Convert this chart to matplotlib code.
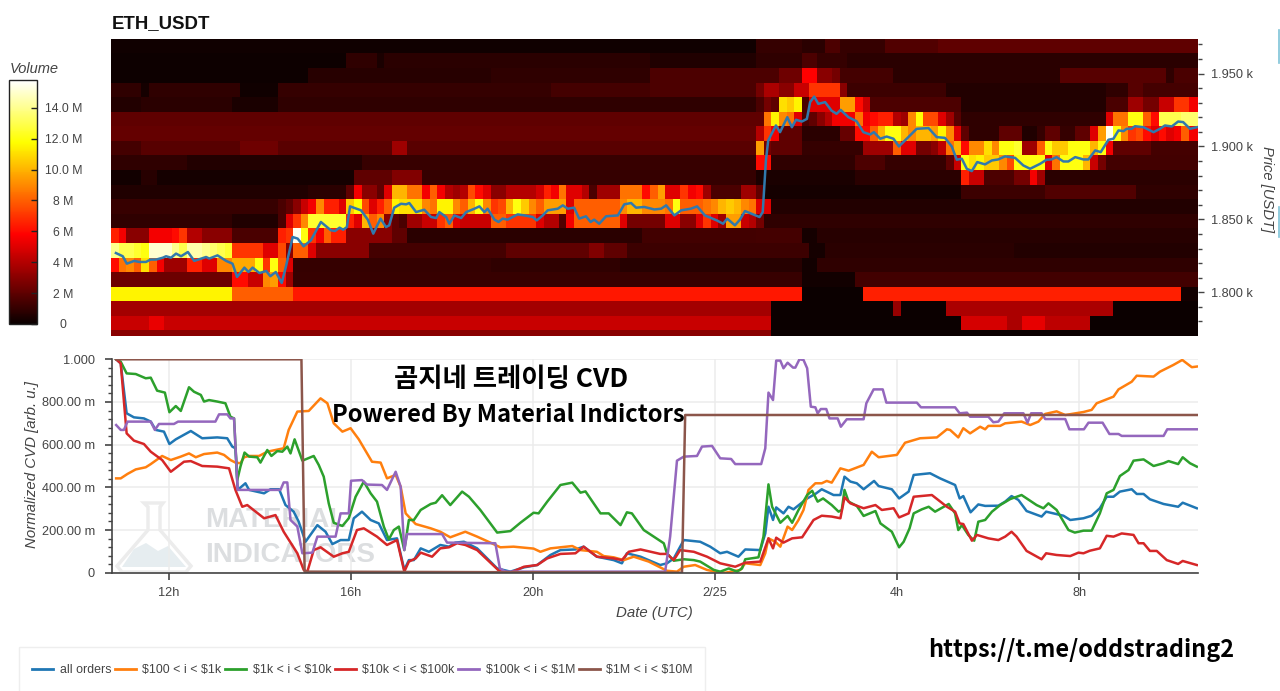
import numpy as np
import matplotlib
matplotlib.use("Agg")
import matplotlib.pyplot as plt
from matplotlib.patches import Rectangle, Polygon
from matplotlib.lines import Line2D
from matplotlib.ticker import FixedLocator

plt.rcParams['font.family'] = ['Liberation Sans', 'DejaVu Sans']

# ---------- heat map volume (millions), run-length (bins, value) per price row, top row first
R0 = [(85,.15),(6,1.0),(3,.8),(2,1.6),(6,1.0),(7,1.7),(35,2.0)]
R1 = [(31,.1),(4,.9),(1,.4),(35,.8),(14,.5),(6,.9),(2,1.6),(4,1.0),(47,.8)]
R2 = [(26,.1),(24,.7),(21,.9),(17,1.6),(3,2.4),(2,5.8),(2,3.0),(1,2.5),(7,1.4),(22,.8),(14,1.8),(1,.9),(4,1.5)]
R3 = [(4,.9),(1,.3),(12,.9),(5,.15),(36,1.0),(13,1.4),(14,1.6),(1,2.5),(2,3.8),(2,3.0),(2,4.5),(4,7.0),(1,3.0),(13,1.2),(21,.6),(3,.9),(2,1.8),(9,1.4)]
R4 = [(4,.6),(12,.8),(6,.4),(63,.9),(1,1.5),(1,2.5),(1,2.0),(1,11),(1,10.5),(1,11.5),(1,1.5),(4,5.0),(2,9.5),(1,6.0),(1,4.5),(12,1.6),(19,.6),(3,1.5),(2,3.5),(2,2.5),(2,4.5),(2,7.0),(2,5.5)]
R5 = [(86,2.0),(1,8.5),(1,11.5),(1,9.0),(1,8.5),(1,5.0),(1,1.5),(1,2.0),(1,3.0),(1,4.0),(3,5.5),(1,8.5),(1,5.5),(1,6.0),(2,6.5),(1,4.0),(1,3.5),(1,9.0),(1,11.8),(2,7.5),(1,5.0),(1,3.5),(1,1.8),(19,.9),(1,5.0),(2,8.5),(2,12),(1,8.0),(1,6.0),(3,13),(3,13.5)]
R6 = [(85,2.1),(1,4),(1,7),(1,5.5),(3,2),(5,.8),(2,2.2),(2,6),(1,8),(1,10),(2,12),(1,10),(1,9),(2,10),(1,9.5),(1,11.5),(1,9),(1,5),(1,2),(4,.9),(3,2),(2,.5),(1,1),(2,2),(2,1),(2,2),(1,5),(1,9.5),(1,15.5),(1,12),(1,9),(1,7),(1,7.5),(1,6),(1,5),(1,6),(1,5),(1,5.5),(1,8),(2,5.5)]
R7 = [(4,1.4),(13,1.8),(5,2.4),(15,1.9),(2,3.5),(46,1.9),(1,9.5),(1,2.5),(4,2),(8,1),(4,3.5),(1,8),(2,5),(2,2.5),(1,3),(1,4.2),(1,8.5),(1,10),(1,6),(2,9),(1,11),(1,9),(2,12),(1,12.5),(2,3.5),(1,8),(1,12),(2,10.5),(3,12),(1,10),(1,12),(1,5.5),(5,2),(8,1.4)]
R8 = [(10,.9),(23,.6),(52,1.1),(2,6),(11,.9),(4,1.6),(8,1),(1,2),(1,4.5),(1,12),(1,11),(1,11.5),(2,10.5),(1,9),(1,7.5),(4,12),(1,5),(1,8.5),(3,12),(1,10),(1,4.5),(1,2.5),(13,1.3)]
R9 = [(4,.2),(2,.7),(26,.3),(5,2),(4,2.8),(44,1),(13,.4),(14,.8),(1,6.5),(2,4.5),(4,1.6),(2,2.5),(1,5.5),(1,3.5),(21,.8)]
R10 = [(26,.5),(5,.8),(1,2),(1,5.5),(2,3),(1,2),(1,5),(2,10),(2,8.5),(1,5.5),(1,8),(1,5.5),(1,4),(1,3.5),(1,4),(1,7.5),(1,6),(1,5),(2,3),(4,4),(1,4.7),(1,6.5),(1,5.5),(1,8.5),(2,5),(1,4),(1,1.5),(3,3.5),(3,8.5),(1,6),(1,8),(1,9.5),(2,5),(1,7),(1,5.5),(1,6),(1,3.5),(4,1.5),(2,3.5),(1,2),(26,.3),(11,1.2),(12,1.7),(9,.9)]
R11 = [(22,1.1),(1,1.5),(1,2),(1,3),(1,4.5),(1,5.5),(1,9),(2,6.5),(1,5),(1,10.5),(1,11.8),(1,7.5),(1,5),(1,6.5),(1,8),(1,11.5),(3,11),(1,9),(1,8.5),(2,11.5),(1,9),(1,8),(1,10),(1,12),(1,9),(1,7),(1,7.5),(1,10),(1,12),(1,10.5),(1,9),(1,8),(3,9.5),(1,5),(6,8),(1,9),(2,10),(3,9),(1,8.5),(1,12),(3,8),(1,8.5),(1,9),(1,10),(1,10.5),(1,10),(1,9),(1,8.5),(2,5),(57,.6)]
R12 = [(16,.9),(6,.5),(1,1.5),(1,5),(1,7),(1,9),(5,12.5),(1,6.5),(1,5),(1,10),(1,8),(1,9),(1,3),(1,2),(1,1.5),(2,3.5),(2,4.5),(1,7),(1,8),(1,5),(4,4.5),(2,8),(4,7),(1,5),(2,4),(1,1.7),(1,5.5),(6,8),(1,5),(5,2.5),(2,5),(2,3),(1,5),(1,7),(1,5),(1,3.5),(2,9.5),(1,4.5),(1,4),(1,2.5),(58,.9)]
R13 = [(1,6.5),(1,5.5),(3,3),(3,5.5),(1,6),(1,7),(2,4),(4,3),(6,1.5),(1,6.5),(1,7),(1,15.5),(1,12),(1,7),(1,5.5),(1,8),(2,6.5),(6,3),(2,2),(31,.8),(15,1.3),(6,1.4),(2,.3),(51,.7)]
R14 = [(1,14),(2,13),(1,12.5),(1,12),(3,15),(1,14),(1,13),(2,14.5),(1,14),(1,13.5),(1,13),(1,12.5),(4,7),(2,5),(1,7.5),(1,3),(2,8),(1,5),(7,3),(18,1.4),(11,2),(2,2.8),(3,2),(24,1.2),(2,.3),(25,.8),(26,.6)]
R15 = [(1,6),(1,8.5),(1,9),(1,8),(1,11),(1,8),(1,5.5),(3,3.5),(2,6.5),(2,5),(2,9),(3,9.8),(1,12),(1,7),(1,12),(1,8),(1,5),(26,1),(17,.9),(24,.7),(2,.2),(51,.9)]
R16 = [(16,2.3),(2,6),(2,4.5),(1,9),(1,9.5),(1,6),(1,3.5),(67,1.1),(7,.2),(46,1.3)]
R17 = [(16,11.5),(8,8),(67,6.3),(8,.05),(42,6.5),(3,.2)]
R18 = [(87,3.6),(16,.05),(1,3.3),(6,.05),(22,3.8),(12,.05)]
R19 = [(5,4.5),(2,5.3),(80,4.5),(25,.05),(6,4.8),(2,3.8),(3,5.2),(6,4.2),(15,.05)]
R20 = [(87,3),(57,.05)]
heat_rows = [R0,R1,R2,R3,R4,R5,R6,R7,R8,R9,R10,R11,R12,R13,R14,R15,R16,R17,R18,R19,R20]

# ---------- price line (hours since 2/24 00:00, USDT)
price_t = [10.85,11.00,11.09,11.25,11.36,11.51,11.61,11.73,11.88,11.95,12.06,12.17,12.28,12.43,12.57,12.72,12.83,12.90,13.08,13.27,13.41,13.51,13.67,13.76,13.85,14.00,14.15,14.24,14.36,14.49,14.58,14.73,14.84,14.97,15.13,15.35,15.57,15.66,15.76,15.84,15.92,15.99,16.23,16.38,16.50,16.66,16.78,16.85,16.96,17.11,17.22,17.29,
 17.33,17.44,17.62,17.77,17.88,17.95,18.10,18.17,18.28,18.43,18.54,18.72,18.83,18.94,19.01,19.16,19.25,19.34,19.45,19.67,19.82,20.00,20.09,20.22,20.33,20.55,20.66,20.77,20.91,21.02,21.17,21.27,21.35,21.46,21.61,21.87,22.01,22.16,22.27,22.45,22.67,22.82,22.93,23.11,23.26,23.47,23.61,
 23.78,24.04,24.18,24.27,24.44,24.55,24.66,24.84,24.98,25.05,25.12,25.17,25.34,25.43,25.59,25.69,25.78,25.91,26.02,26.09,26.18,26.27,26.42,26.56,26.67,26.76,26.93,27.11,27.26,27.41,27.49,27.63,27.77,27.92,28.04,28.21,28.43,28.69,28.87,
 29.05,29.20,29.31,29.42,29.53,29.64,29.76,29.93,30.08,30.22,30.37,30.59,30.77,30.92,31.14,31.28,31.39,31.50,31.65,31.76,31.91,32.09,32.20,32.35,32.47,32.64,32.75,32.86,32.97,33.04,33.15,33.22,33.41,33.63,33.77,33.88,34.03,34.17,34.28,34.43,34.58]
price_v = [1826.9,1824.7,1819.6,1821.5,1820.8,1820.8,1822.4,1822.4,1823.7,1824.7,1823.7,1826.5,1824.7,1827.6,1821.5,1823.1,1824.2,1823.1,1825.3,1821.5,1819.6,1810.5,1816.9,1813.9,1816.9,1813.2,1814.6,1811.0,1813.9,1806.4,1817.3,1837.9,1836.8,1831.5,1835.6,1848.2,1842.5,1842.0,1844.3,1842.9,1844.7,1858.9,1856.2,1849.8,1840.2,1850.5,1844.7,1845.9,1858.0,1860.7,1860.3,1861.2,
 1859.6,1855.0,1856.6,1851.6,1850.9,1855.0,1851.6,1847.0,1852.7,1850.9,1855.0,1857.3,1858.9,1855.0,1857.3,1849.8,1848.2,1850.5,1849.8,1853.4,1852.7,1851.6,1849.3,1852.7,1856.2,1857.3,1859.6,1857.3,1858.0,1850.5,1852.1,1848.2,1849.8,1847.0,1852.1,1852.7,1860.3,1861.2,1858.0,1858.5,1856.8,1857.3,1859.6,1852.7,1856.2,1857.3,1858.9,
 1852.7,1849.3,1847.0,1850.5,1845.9,1849.8,1855.7,1853.4,1851.6,1855.0,1890.4,1904.1,1914.4,1909.8,1920.1,1913.2,1918.3,1917.1,1918.9,1930.4,1934.2,1929.2,1930.4,1924.6,1922.4,1925.1,1920.1,1917.3,1909.8,1908.2,1909.8,1905.3,1906.8,1905.3,1900.0,1905.3,1912.1,1912.6,1906.4,
 1905.9,1900.0,1890.9,1891.6,1884.7,1883.1,1889.3,1887.7,1890.4,1891.1,1893.2,1892.2,1887.0,1884.7,1888.1,1890.9,1891.1,1892.7,1889.7,1889.7,1892.7,1891.1,1891.1,1897.3,1896.1,1904.6,1905.3,1911.0,1910.5,1912.1,1912.1,1913.9,1913.2,1909.8,1912.1,1914.4,1913.7,1917.1,1916.7,1912.1,1913.2]

# ---------- normalized CVD series (hours, milli-units)
all_t = [10.84,10.94,11.07,11.23,11.45,11.60,11.71,11.89,12.01,12.15,12.48,12.73,13.06,13.28,13.39,13.46,13.51,13.68,13.76,14.09,14.23,14.42,14.56,14.74,14.85,15.00,15.26,15.44,15.59,15.77,15.95,16.06,16.24,16.43,16.61,16.79,17.01,
 17.17,17.27,17.38,17.53,17.71,17.96,18.15,18.29,18.48,18.77,19.21,19.50,19.80,20.09,20.38,20.60,20.93,21.11,21.40,21.77,21.95,22.06,22.36,22.79,22.94,23.09,23.31,23.67,
 23.89,24.11,24.26,24.51,24.66,24.99,25.10,25.17,25.27,25.34,25.50,25.61,25.72,26.02,26.20,26.34,26.60,26.75,26.84,26.97,27.11,27.26,27.49,27.59,27.88,28.04,28.25,28.36,28.72,28.94,
 29.27,29.37,29.45,29.61,29.78,29.93,30.22,30.37,30.51,30.66,30.84,31.17,31.27,31.65,31.80,32.09,32.27,32.45,32.60,32.75,32.89,33.15,33.26,33.41,33.55,33.85,34.17,34.27,34.58]
all_v = [1000,981,747,728,723,708,669,661,603,625,664,630,634,630,591,583,388,419,388,372,391,391,317,286,239,145,223,192,134,153,153,255,286,247,231,153,161,
 13,59,59,114,98,130,122,141,145,114,20,5,25,36,83,106,109,122,75,59,44,91,75,36,44,67,153,145,
 122,91,98,75,109,106,184,309,247,306,278,309,297,348,369,391,364,364,450,427,419,391,430,406,391,348,380,458,466,442,
 411,348,359,283,320,313,314,333,359,341,289,263,286,267,247,255,267,302,356,356,380,391,369,369,344,322,309,328,302]

o100_t = [10.84,10.94,11.09,11.27,11.49,11.60,11.85,12.04,12.26,12.44,12.59,12.77,13.06,13.21,13.35,13.46,13.57,13.65,13.76,13.98,14.16,14.52,14.63,14.82,15.07,15.33,15.48,15.62,15.81,15.99,16.17,16.46,16.65,16.79,16.98,
 17.09,17.20,17.42,17.75,17.96,18.18,18.51,18.77,19.06,19.28,19.57,20.01,20.16,20.38,20.86,21.04,21.40,21.55,21.77,21.99,22.21,22.54,22.94,23.16,23.31,23.56,
 23.82,24.00,24.22,24.55,24.66,24.99,25.10,25.17,25.32,25.43,25.59,25.69,25.83,25.94,26.05,26.20,26.34,26.45,26.56,26.75,26.93,27.26,27.44,27.59,27.99,28.17,28.50,28.87,29.09,
 29.16,29.34,29.45,29.60,29.82,29.93,30.00,30.26,30.37,30.73,30.92,31.10,31.25,31.50,31.69,32.09,32.27,32.38,32.75,32.86,33.15,33.26,33.63,33.77,34.06,34.26,34.47,34.58]
o100_v = [442,442,463,484,494,509,547,528,544,559,541,556,563,552,528,516,513,541,547,547,567,583,669,755,758,817,794,700,661,677,625,520,516,442,458,
 403,278,228,208,192,166,192,169,141,119,122,113,98,114,125,106,98,78,72,59,75,52,9,5,28,36,
 13,5,0,13,44,36,91,161,145,122,216,200,247,294,388,419,419,430,422,489,478,505,567,541,552,609,630,634,672,
 669,634,677,653,684,672,688,688,700,708,692,708,744,756,739,753,763,794,825,859,895,923,919,942,973,997,963,966]

o1k_t = [10.84,10.94,11.07,11.27,11.49,11.60,11.74,11.91,12.01,12.15,12.26,12.44,12.55,12.70,12.77,12.88,13.06,13.24,13.35,13.43,13.50,13.57,13.66,13.76,13.94,14.01,14.16,14.25,14.38,14.49,14.60,14.67,14.76,14.93,15.18,15.29,15.40,15.51,15.62,15.81,15.95,16.10,16.28,16.43,16.57,16.72,16.83,16.94,17.05,17.17,
 17.27,17.38,17.53,17.75,17.86,18.00,18.18,18.44,18.59,18.84,19.21,19.50,19.72,20.01,20.12,20.31,20.60,20.86,21.04,21.15,21.48,21.66,21.92,22.06,22.17,22.43,22.87,22.94,23.09,23.31,23.53,
 23.67,23.97,24.11,24.30,24.48,24.59,24.66,24.95,25.06,25.17,25.25,25.43,25.59,25.69,25.83,26.02,26.13,26.25,26.37,26.56,26.71,26.78,26.84,26.93,27.11,27.26,27.52,27.63,27.88,28.04,28.14,28.27,28.36,28.54,28.69,28.83,29.13,
 29.27,29.34,29.42,29.56,29.69,29.78,29.93,30.08,30.26,30.48,30.73,31.06,31.21,31.32,31.50,31.76,31.90,32.09,32.27,32.45,32.60,32.75,32.89,33.08,33.19,33.41,33.63,33.85,33.96,34.17,34.27,34.43,34.58]
o1k_v = [1000,989,934,931,911,914,853,844,752,781,758,869,848,833,802,809,802,794,731,723,434,497,563,544,541,516,575,547,570,567,591,559,625,525,547,505,450,325,234,219,255,356,427,372,333,216,156,200,216,106,
 247,247,294,322,328,363,317,380,356,294,188,195,234,281,278,333,411,422,375,381,278,278,223,283,278,200,138,91,56,63,59,
 52,13,5,20,5,20,63,72,169,414,309,234,266,234,294,364,384,333,348,317,286,294,388,333,313,266,289,231,192,119,145,208,278,297,309,286,322,
 278,200,223,177,150,239,247,286,317,345,364,317,302,325,294,200,188,197,197,278,372,388,453,481,525,531,500,513,523,509,541,513,497]

o10k_t = [10.84,10.94,11.07,11.23,11.45,11.60,11.85,12.04,12.33,12.48,12.73,13.06,13.32,13.46,13.61,13.72,14.09,14.34,14.52,14.82,14.96,15.04,15.18,15.33,15.62,15.81,15.95,16.13,16.28,16.57,16.79,17.01,
 17.17,17.27,17.42,17.53,17.78,17.96,18.15,18.33,18.51,18.77,19.25,19.50,19.80,20.09,20.31,20.60,20.93,21.11,21.40,21.77,21.95,22.10,22.36,22.79,22.94,23.09,23.23,23.53,23.82,
 24.11,24.44,24.66,24.99,25.17,25.27,25.34,25.50,25.69,25.91,26.16,26.34,26.56,26.75,26.84,26.97,27.26,27.52,27.66,27.92,28.04,28.25,28.36,28.76,29.09,
 29.27,29.37,29.45,29.64,29.75,30.00,30.22,30.37,30.51,30.62,30.84,31.17,31.27,31.50,31.80,31.98,32.09,32.23,32.45,32.60,32.75,32.93,33.19,33.30,33.41,33.55,33.70,33.92,34.17,34.27,34.58]
o10k_v = [1000,981,653,619,603,567,528,473,520,523,500,497,489,388,309,317,255,270,192,91,13,5,106,119,75,91,98,200,208,169,130,153,
 5,52,67,94,75,114,119,138,130,106,9,0,28,36,67,88,91,122,75,67,59,98,109,88,88,59,106,98,75,
 44,28,47,52,161,114,164,141,161,166,247,267,263,255,353,325,302,317,294,302,259,278,356,364,309,
 286,231,228,150,177,161,153,169,192,169,102,63,91,83,78,94,91,103,114,173,169,184,177,138,138,102,102,59,41,55,36]

o100k_t = [10.84,10.94,11.01,11.09,11.60,11.69,11.78,12.11,12.20,13.02,13.10,13.28,13.35,13.43,13.51,14.45,14.52,14.60,14.67,14.82,14.93,15.15,15.26,15.66,15.77,15.95,16.00,16.24,16.35,16.68,16.79,16.98,
 17.09,17.17,17.23,18.00,18.11,19.17,19.27,19.39,22.90,23.01,23.16,23.31,23.60,23.71,
 23.93,24.11,24.35,24.44,25.01,25.10,25.17,25.27,25.34,25.43,25.50,25.59,25.71,25.76,25.85,25.94,26.02,26.10,26.20,26.25,26.32,26.44,26.51,26.69,26.76,26.89,27.26,27.32,27.48,27.68,27.76,28.43,28.52,
 29.27,29.37,29.53,29.60,30.00,30.11,30.22,30.35,30.77,30.86,30.94,31.17,31.25,31.69,31.78,32.10,32.20,32.51,32.66,32.86,32.93,33.85,33.93,34.58]
o100k_v = [692,669,669,708,708,669,697,697,708,708,742,742,723,723,388,388,423,423,247,216,91,94,169,169,278,278,431,434,413,411,388,473,
 403,106,181,181,141,138,20,5,5,169,525,544,547,591,
 594,536,533,509,509,583,844,809,994,994,958,984,961,961,1000,997,958,778,775,747,767,767,723,723,684,719,719,794,859,859,797,797,775,
 775,747,750,731,731,705,708,747,747,703,747,747,720,720,672,672,703,703,650,650,641,641,672,672]

o1m_t = [10.84,14.91,14.98,23.27,23.34,34.58]
o1m_v = [1000,1000,5,0,739,739]

series_names = ['all orders', r'\$100 < i < \$1k', r'\$1k < i < \$10k', r'\$10k < i < \$100k', r'\$100k < i < \$1M', r'\$1M < i < \$10M']
series_t = [all_t, o100_t, o1k_t, o10k_t, o100k_t, o1m_t]
series_v = [all_v, o100_v, o1k_v, o10k_v, o100k_v, o1m_v]
series_colors = ['#1f77b4', '#ff7f0e', '#2ca02c', '#d62728', '#9467bd', '#8c564b']

x_ticks = [12, 16, 20, 24, 28, 32]
x_labels = ['12h', '16h', '20h', '2/25', '4h', '8h']
cvd_ticks = [0, 200, 400, 600, 800, 1000]
cvd_labels = ['0', '200.00 m', '400.00 m', '600.00 m', '800.00 m', '1.000']
price_ticks = [1800, 1850, 1900, 1950]
price_labels = ['1.800 k', '1.850 k', '1.900 k', '1.950 k']
vol_ticks = [0, 2, 4, 6, 8, 10, 12, 14]
vol_labels = ['0', '2 M', '4 M', '6 M', '8 M', '10.0 M', '12.0 M', '14.0 M']

# ---------- layout
W, H = 1280, 691
fig = plt.figure(figsize=(W/100, H/100), dpi=100, facecolor='white')
def box(x0, y0, x1, y1):
    return [x0/W, 1-y1/H, (x1-x0)/W, (y1-y0)/H]
def fx(x): return x/W
def fy(y): return 1-y/H

GREY = '#444444'
XMIN, XMAX = 10.742, 34.606

# ---------- heat map
ax = fig.add_axes(box(111, 39, 1198, 336))
z = np.array([[v for n, v in r for _ in range(n)][:144] + [r[-1][1]]*max(0, 144-sum(n for n, _ in r)) for r in heat_rows])
xe = XMIN + np.arange(145)/6
ye = 1763.8 + 10*np.arange(22)
mesh = ax.pcolormesh(xe, ye, z[::-1], cmap='hot', vmin=0, vmax=15.8, shading='flat', rasterized=True)
ax.plot(price_t, price_v, color='#3079ad', lw=1.8, solid_joinstyle='round')
ax.set_xlim(XMIN, XMAX)
ax.set_ylim(1770, 1973.7)
ax.set_xticks([])
ax.yaxis.tick_right()
ax.set_yticks(price_ticks)
ax.set_yticklabels(price_labels, fontsize=9.2, color=GREY)
ax.yaxis.set_minor_locator(FixedLocator([1780,1790,1810,1820,1830,1840,1860,1870,1880,1890,1910,1920,1930,1940,1960,1970]))
ax.tick_params(axis='y', which='major', length=4.5, width=1, color=GREY, pad=5)
ax.tick_params(axis='y', which='minor', length=3, width=1, color=GREY)
for s in ax.spines.values():
    s.set_visible(False)
fig.text(fx(1267), fy(189), 'Price [USDT]', rotation=270, ha='center', va='center', style='italic', fontsize=10.6, color=GREY)
fig.text(fx(112), fy(24), 'ETH_USDT', ha='left', va='center', fontweight='bold', fontsize=13.4, color='#111111')

# ---------- colour bar
cax = fig.add_axes(box(9, 80, 37, 324))
cb = fig.colorbar(mesh, cax=cax)
cb.set_ticks(vol_ticks)
cb.set_ticklabels(vol_labels)
cb.outline.set_edgecolor('#222222')
cb.outline.set_linewidth(1)
cax.tick_params(axis='y', which='major', direction='in', length=4, width=1, color='#222222', pad=19, labelsize=8.8, labelcolor=GREY)
cax.minorticks_off()
for t in cax.get_yticklabels():
    t.set_ha('center')
fig.text(fx(10), fy(69), 'Volume', ha='left', va='center', style='italic', fontsize=10.5, color=GREY)

# ---------- watermark behind the lower panel
flask = Polygon([[fx(x), fy(y)] for x, y in [(144,503),(163,503),(160,507),(160,530),(191,566),(186,572),(122,572),(117,566),(148,530),(148,507)]],
                closed=True, transform=fig.transFigure, facecolor='white', edgecolor='#ececec', lw=2.5, zorder=-2)
liquid = Polygon([[fx(x), fy(y)] for x, y in [(122,567),(134,549),(146,543),(158,551),(168,546),(186,567)]],
                 closed=True, transform=fig.transFigure, facecolor='#e6edf0', edgecolor='none', zorder=-1)
fig.add_artist(flask)
fig.add_artist(liquid)
wm_kw = dict(ha='left', va='center', fontweight='bold', fontsize=20, color='#dcdee0', zorder=-1,
             family=['Liberation Sans Narrow', 'Liberation Sans'])
fig.text(fx(205), fy(520), 'MATERIAL', **wm_kw)
fig.text(fx(205), fy(555), 'INDICATORS', **wm_kw)

# ---------- CVD panel
bx = fig.add_axes(box(111.7, 359.3, 1198, 572.7))
bx.patch.set_alpha(0)
for t, v, c in zip(series_t, series_v, series_colors):
    bx.plot(t, v, color=c, lw=1.8, solid_joinstyle='round', clip_on=True)
bx.set_xlim(XMIN, XMAX)
bx.set_ylim(0, 1000)
bx.set_xticks(x_ticks)
bx.set_xticklabels(x_labels, fontsize=9.2, color=GREY)
bx.set_yticks(cvd_ticks)
bx.set_yticklabels(cvd_labels, fontsize=9.2, color=GREY)
bx.yaxis.set_minor_locator(FixedLocator([v for v in range(40, 1000, 40) if v % 200]))
bx.grid(True, which='major', color='#ececec', lw=1.1)
bx.set_axisbelow(True)
bx.tick_params(axis='x', which='major', length=5, width=1.2, color=GREY, pad=5)
bx.tick_params(axis='y', which='major', length=5, width=1.2, color=GREY, pad=7)
bx.tick_params(axis='y', which='minor', length=3.2, width=1, color=GREY)
bx.spines['top'].set_visible(False)
bx.spines['right'].set_visible(False)
bx.spines['left'].set_color(GREY)
bx.spines['bottom'].set_color(GREY)
bx.spines['left'].set_linewidth(1.2)
bx.spines['bottom'].set_linewidth(1.2)
bx.set_xlabel('Date (UTC)', style='italic', fontsize=10.8, color=GREY, labelpad=5.5)
fig.text(fx(32), fy(465), 'Normalized CVD [arb. u.]', rotation=90, ha='center', va='center', style='italic', fontsize=10.8, color=GREY)

# ---------- overlay captions
cjk = ['Noto Sans CJK KR', 'DejaVu Sans']
fig.text(fx(511), fy(379), '곰지네 트레이딩 CVD', ha='center', va='center', family=cjk, fontweight='bold', fontsize=19, color='black', zorder=5)
fig.text(fx(508), fy(415), 'Powered By Material Indictors', ha='center', va='center', family=cjk, fontweight='bold', fontsize=17.1, color='black', zorder=5)
fig.text(fx(1081), fy(650), 'https://t.me/oddstrading2', ha='center', va='center', family=cjk, fontweight='bold', fontsize=16.9, color='black', zorder=5)

# ---------- legend
fig.add_artist(Rectangle((fx(19), fy(700)), (705-19)/W, (700-647)/H, transform=fig.transFigure, facecolor='white', edgecolor='#eeeeee', lw=1))
handles = [Line2D([], [], color=c, lw=2.0) for c in series_colors]
leg = fig.legend(handles, series_names, ncol=6, loc='center left', bbox_to_anchor=(fx(32), fy(670)), frameon=False,
                 fontsize=8.9, handlelength=1.7, handletextpad=0.55, columnspacing=0.27, borderpad=0, borderaxespad=0, labelcolor=GREY)
leg.set_zorder(6)

# ---------- sliver of the neighbouring page at the right edge
fig.add_artist(Line2D([fx(1279), fx(1279)], [fy(30), fy(63)], color='#7fc4d8', lw=1.2))
fig.add_artist(Line2D([fx(1279), fx(1279)], [fy(207), fy(237)], color='#7fc4d8', lw=1.2))

fig.savefig('out.png', dpi=100)
